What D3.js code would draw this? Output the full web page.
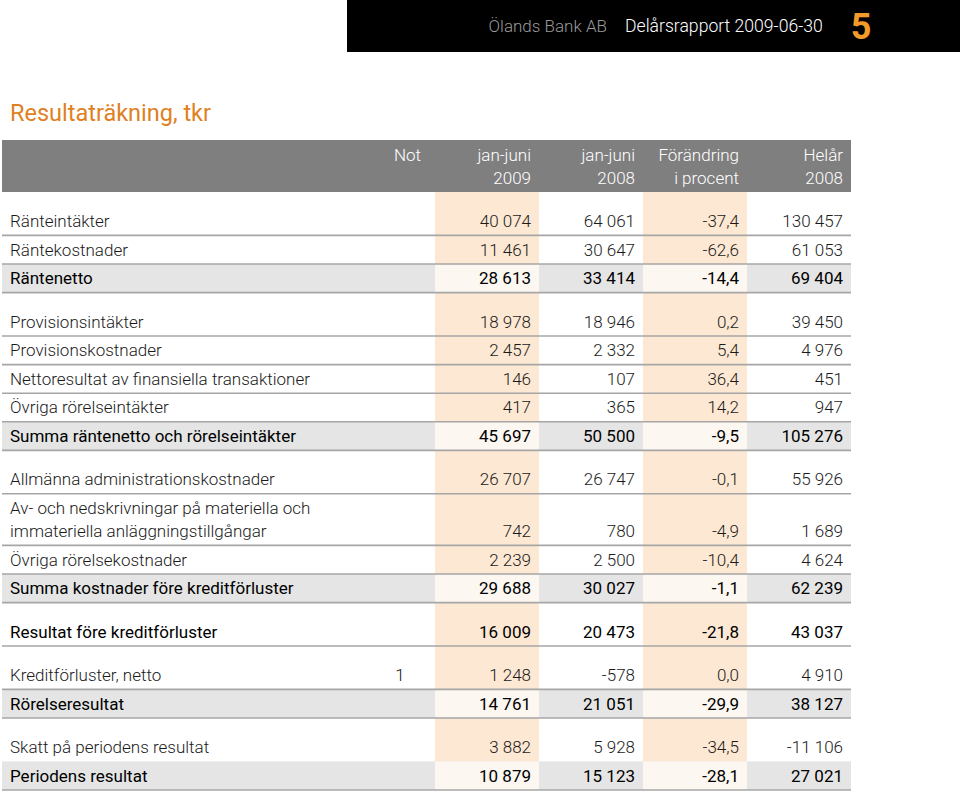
<!DOCTYPE html>
<html><head><meta charset="utf-8">
<script src="https://cdnjs.cloudflare.com/ajax/libs/d3/7.8.5/d3.min.js"></script>
<style>
html,body{margin:0;padding:0;background:#fff;}
svg{display:block;font-family:Roboto,"Open Sans",sans-serif;}
</style></head>
<body>
<svg id="c" width="960" height="797"></svg>
<script>
const labels = [
  ["Ränteintäkter"],
  ["Räntekostnader"],
  ["Räntenetto"],
  ["Provisionsintäkter"],
  ["Provisionskostnader"],
  ["Nettoresultat av finansiella transaktioner"],
  ["Övriga rörelseintäkter"],
  ["Summa räntenetto och rörelseintäkter"],
  ["Allmänna administrationskostnader"],
  ["Av- och nedskrivningar på materiella och","immateriella anläggningstillgångar"],
  ["Övriga rörelsekostnader"],
  ["Summa kostnader före kreditförluster"],
  ["Resultat före kreditförluster"],
  ["Kreditförluster, netto"],
  ["Rörelseresultat"],
  ["Skatt på periodens resultat"],
  ["Periodens resultat"]
];
const notes = ["","","","","","","","","","","","","","1","","",""];
const jan2009 = [40074,11461,28613,18978,2457,146,417,45697,26707,742,2239,29688,16009,1248,14761,3882,10879];
const jan2008 = [64061,30647,33414,18946,2332,107,365,50500,26747,780,2500,30027,20473,-578,21051,5928,15123];
const change  = [-37.4,-62.6,-14.4,0.2,5.4,36.4,14.2,-9.5,-0.1,-4.9,-10.4,-1.1,-21.8,0.0,-29.9,-34.5,-28.1];
const full2008 = [130457,61053,69404,39450,4976,451,947,105276,55926,1689,4624,62239,43037,4910,38127,-11106,27021];
// row kinds: "sum" = highlighted total rows, "result" = emphasised row without shading
const rowKind = ["item","item","sum","item","item","item","item","sum","item","item","item","sum","result","item","sum","item","sum"];
const groupStart = [true,false,false,true,false,false,false,false,true,false,false,false,true,true,false,true,false];
const colKeys = ["jan2009","jan2008","change","full2008"];
const colHead = [["jan-juni","2009"],["jan-juni","2008"],["Förändring","i procent"],["Helår","2008"]];

const loc = d3.formatLocale({decimal:",",thousands:" ",grouping:[3],currency:["",""],minus:"-"});
const fInt = loc.format(",d");
const fPct = loc.format(",.1f");

const svg = d3.select("#c");

// top banner
svg.append("rect").attr("x",347).attr("y",0).attr("width",613).attr("height",52).attr("fill","#000");
svg.append("text").attr("x",607).attr("y",32).attr("text-anchor","end").attr("font-size",17).attr("font-weight",300).attr("fill","#9a9a9a").text("Ölands Bank AB");
svg.append("text").attr("x",625).attr("y",32).attr("font-size",17.6).attr("font-weight",300).attr("fill","#fff").text("Delårsrapport 2009-06-30");
svg.append("text").attr("x",861).attr("y",39).attr("text-anchor","middle").attr("font-size",36).attr("font-weight",700).attr("fill","#f39a2a").text("5");

// title
svg.append("text").attr("x",10).attr("y",121).attr("font-size",23.5).attr("fill","#e0801f").text("Resultaträkning, tkr");

// layout
const left = 2, right = 851, headTop = 140, headBot = 192;
const rowH = 28.6, lineH = 23, spacer = 14.8, fs = 17;
const rows = labels.map((l,i)=>({i,label:l,note:notes[i],vals:[jan2009[i],jan2008[i],change[i],full2008[i]],kind:rowKind[i]}));
let yy = headBot;
rows.forEach(r=>{ if(groupStart[r.i]) yy += spacer; r.y0 = yy; r.h = rowH + (r.label.length-1)*lineH; yy += r.h; r.y1 = yy; });
const bottom = yy;

const x = d3.scaleBand().domain(colKeys).range([435, 851]).paddingInner(0);

// header band
svg.append("rect").attr("x",left).attr("y",headTop).attr("width",right-left).attr("height",headBot-headTop).attr("fill","#807f80");
svg.append("text").attr("x",421).attr("y",161).attr("text-anchor","end").attr("font-size",fs).attr("font-weight",300).attr("fill","#fff").text("Not");
colKeys.forEach((k,ci)=>{
  colHead[ci].forEach((t,li)=>{
    svg.append("text").attr("x",x(k)+x.bandwidth()-8).attr("y",161+li*23).attr("text-anchor","end")
      .attr("font-size",fs).attr("font-weight",300).attr("fill","#fff").text(t);
  });
});

// highlighted columns
["jan2009","change"].forEach(k=>{
  svg.append("rect").attr("x",x(k)).attr("y",headBot).attr("width",x.bandwidth()).attr("height",bottom-headBot).attr("fill","#fde8d3");
});

// sum row backgrounds
rows.filter(r=>r.kind==="sum").forEach(r=>{
  svg.append("rect").attr("x",left).attr("y",r.y0).attr("width",right-left).attr("height",r.h).attr("fill","#e5e5e5");
  ["jan2009","change"].forEach(k=>{
    svg.append("rect").attr("x",x(k)).attr("y",r.y0).attr("width",x.bandwidth()).attr("height",r.h).attr("fill","#fdf7f1");
  });
});

// separator lines
rows.forEach(r=>{
  if(r.i===15) return;
  svg.append("line").attr("x1",left).attr("x2",right).attr("y1",r.y1).attr("y2",r.y1).attr("stroke","#a6a6a6").attr("stroke-width",1.6);
});

// text
rows.forEach(r=>{
  const strong = r.kind!=="item";
  const w = strong ? 400 : 300;
  const col = strong ? "#000" : "#1a1a1a";
  const base = r.y1 - 8.5;
  const n = r.label.length;
  r.label.forEach((t,li)=>{
    svg.append("text").attr("x",10).attr("y",base-(n-1-li)*lineH).attr("font-size",fs).attr("font-weight",w).attr("fill",col).text(t);
  });
  if(r.note) svg.append("text").attr("x",400).attr("y",base).attr("text-anchor","middle").attr("font-size",fs).attr("font-weight",300).attr("fill",col).text(r.note);
  colKeys.forEach((k,ci)=>{
    const v = r.vals[ci];
    svg.append("text").attr("x",x(k)+x.bandwidth()-8).attr("y",base).attr("text-anchor","end")
      .attr("font-size",fs).attr("font-weight",w).attr("fill",col).text(ci===2?fPct(v):fInt(v));
  });
});
</script>
</body></html>
